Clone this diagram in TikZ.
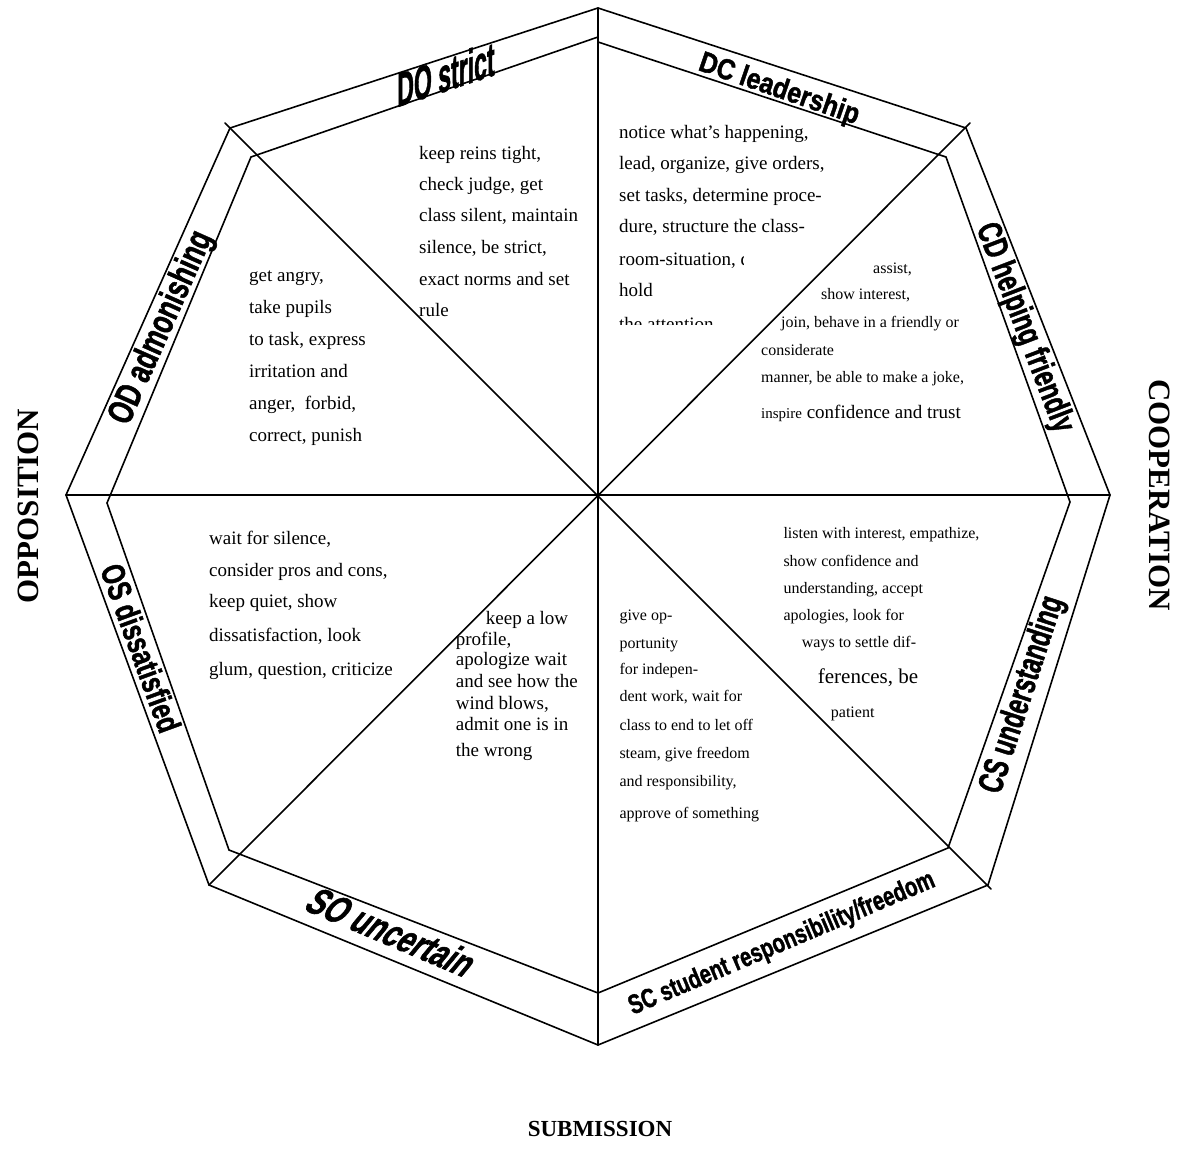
\documentclass[tikz,border=0pt]{standalone}
\usepackage{fontspec}
\setmainfont{Liberation Serif}
\newfontfamily\bandfont{Liberation Sans Bold}[FakeBold=1.6]
\newcommand\bodysz{\fontsize{19}{19}\selectfont}
\newcommand\smallsz{\fontsize{16}{16}\selectfont}
\newcommand\bandsz[1]{\bandfont\fontsize{#1}{#1}\selectfont}
\tikzset{
  ln/.style={line width=1.6pt, line cap=round, line join=miter},
  body/.style={anchor=base west, inner sep=0pt, font=\bodysz},
  smalltxt/.style={anchor=base west, inner sep=0pt, font=\smallsz},
  band/.style={inner sep=0pt, anchor=center},
  axislbl/.style={inner sep=0pt, anchor=center, font=\bfseries\fontsize{31}{31}\selectfont},
}
\begin{document}
\begin{tikzpicture}[x=1pt,y=-1pt]
\useasboundingbox (0,0) rectangle (1178,1169);
\fill[white] (0,0) rectangle (1178,1169);
% centre
\coordinate (c) at (598,495);
% outer octagon
\coordinate (oT) at (598,8);
\coordinate (oTR) at (966,128);
\coordinate (oR) at (1110,495);
\coordinate (oBR) at (988,885);
\coordinate (oB) at (598,1045);
\coordinate (oBL) at (209,885);
\coordinate (oL) at (66,495);
\coordinate (oTL) at (230,128);
% inner octagon
\coordinate (iTa) at (598,37);
\coordinate (iTb) at (598,42);
\coordinate (iTR) at (946,157);
\coordinate (iR) at (1070,502);
\coordinate (iBR) at (948,848);
\coordinate (iB) at (598,993);
\coordinate (iBL) at (229,850);
\coordinate (iL) at (107,503);
\coordinate (iTL) at (251,157);
% diagonal ends
\coordinate (dA) at (225,123);
\coordinate (dB) at (991,889);
\coordinate (dC) at (970,123);
\coordinate (dD) at (209,885);

% ---------- texts ----------
% DO strict sector
\foreach \yy/\tline [count=\ti] in {159.3/{keep reins tight,},191/{check judge, get},221.7/{class silent, maintain},253.3/{silence, be strict,},285.7/{exact norms and set},316.7/{rule}}
  {\node[body] (do\ti) at (419,\yy) {\tline};}
% DC leadership sector (clipped)
\begin{scope}
\clip (605,100) -- (870,100) -- (870,246) -- (743,246) -- (743,324.5) -- (605,324.5) -- cycle;
\foreach \yy/\tline [count=\ti] in {138.3/{notice what’s happening,},170/{lead, organize, give orders,},201.7/{set tasks, determine proce-},233/{dure, structure the class-},265.7/{room-situation, draw and},296.7/{hold},330/{the attention}}
  {\node[body] (dc\ti) at (619,\yy) {\tline};}
\end{scope}
% CD helping friendly sector
\node[smalltxt] (cd1) at (873,273.3) {assist,};
\node[smalltxt] (cd2) at (821,299.3) {show interest,};
\node[smalltxt] (cd3) at (781,327.3) {join, behave in a friendly or};
\node[smalltxt] (cd4) at (761,355) {considerate};
\node[smalltxt] (cd5) at (761,382.7) {manner, be able to make a joke,};
\node[body] (cd6) at (761,418.3) {{\fontsize{15}{15}\selectfont inspire} confidence and trust};
% OD admonishing sector
\foreach \yy/\tline [count=\ti] in {281/{get angry,},313/{take pupils},345/{to task, express},377/{irritation and},409/{anger,\ \ forbid,},441/{correct, punish}}
  {\node[body] (od\ti) at (249,\yy) {\tline};}
% OS dissatisfied sector
\foreach \yy/\tline [count=\ti] in {544/{wait for silence,},576/{consider pros and cons,},607.7/{keep quiet, show},641.7/{dissatisfaction, look},675.7/{glum, question, criticize}}
  {\node[body] (os\ti) at (209,\yy) {\tline};}
% SO uncertain sector
\node[body] (so1) at (485.7,624) {keep a low};
\foreach \yy/\tline [count=\ti from 2] in {645/{profile,},665.7/{apologize wait},687.3/{and see how the},709/{wind blows,},730/{admit one is in},756.7/{the wrong}}
  {\node[body] (so\ti) at (455.7,\yy) {\tline};}
% SC sector
\foreach \yy/\tline [count=\ti] in {620/{give op-},648.3/{portunity},674/{for indepen-},701.7/{dent work, wait for},730/{class to end to let off},758.3/{steam, give freedom},786/{and responsibility,},818.3/{approve of something}}
  {\node[smalltxt] (sc\ti) at (619.3,\yy) {\tline};}
% CS understanding sector
\node[smalltxt] (cs1) at (783.3,538.3) {listen with interest, empathize,};
\node[smalltxt] (cs2) at (783.3,566) {show confidence and};
\node[smalltxt] (cs3) at (783.3,593.3) {understanding, accept};
\node[smalltxt] (cs4) at (783.3,620) {apologies, look for};
\node[smalltxt] (cs5) at (801.7,647.7) {ways to settle dif-};
\node[body, font=\fontsize{21}{21}\selectfont] (cs6) at (817.7,683.3) {ferences, be};
\node[smalltxt] (cs7) at (830.7,717.7) {patient};

% ---------- lines ----------
\draw[ln] (oT) -- (oTR) -- (oR) -- (oBR) -- (oB) -- (oBL) -- (oL) -- (oTL) -- cycle;
\draw[ln] (iTa) -- (iTL) -- (iL) -- (iBL) -- (iB) -- (iBR) -- (iR) -- (iTR) -- (iTb);
\draw[ln] (oT) -- (oB);
\draw[ln] (oL) -- (oR);
\draw[ln] (dA) -- (dB);
\draw[ln] (dC) -- (dD);

% ---------- band labels ----------
\node[band, font=\bandsz{48}, yslant=0.33, xscale=0.48] (lDO) at (446,74) {DO strict};
\node[band, font=\bandsz{29}, rotate=-19, xscale=0.86] (lDC) at (779,90) {DC leadership};
\node[band, font=\bandsz{34}, rotate=-69, xscale=0.71] (lCD) at (1024,328) {CD helping friendly};
\node[band, font=\bandsz{35}, rotate=72, xscale=0.68] (lCS) at (1023,695) {CS understanding};
\node[band, font=\bandsz{27}, rotate=23, xscale=0.75] (lSC) at (782,944) {SC student responsibility/freedom};
\node[band, font=\bandsz{39}, rotate=-23, xslant=0.3, xscale=0.72] (lSO) at (392,932) {SO uncertain};
\node[band, font=\bandsz{33}, rotate=-70, xscale=0.74] (lOS) at (141,648) {OS dissatisfied};
\node[band, font=\bandsz{36}, rotate=66, xscale=0.72] (lOD) at (162,328) {OD admonishing};

% ---------- axis labels ----------
\node[axislbl, rotate=90] (opp) at (28,506) {OPPOSITION};
\node[axislbl, rotate=-90] (coop) at (1160,495) {COOPERATION};
\node[axislbl, font=\bfseries\fontsize{23}{23}\selectfont] (sub) at (600,1129) {SUBMISSION};
\end{tikzpicture}
\end{document}
